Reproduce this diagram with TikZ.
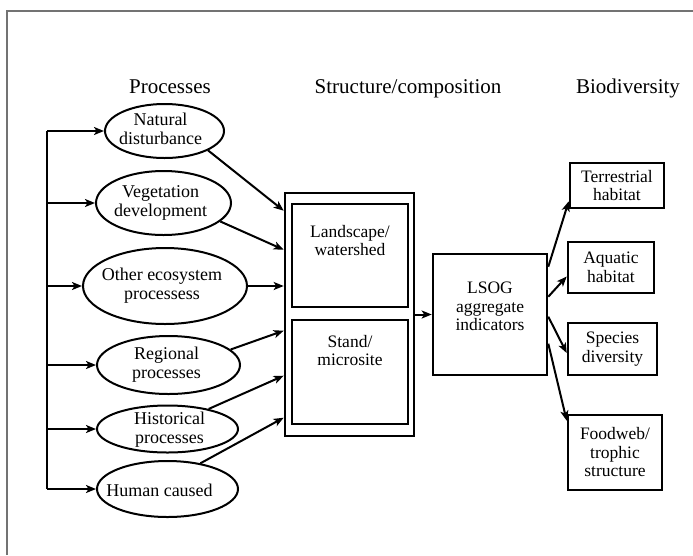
\documentclass[tikz,border=0pt]{standalone}
\usepackage{fontspec}
\setmainfont{Liberation Serif}
\usetikzlibrary{shapes.geometric,arrows.meta,calc}
\begin{document}
\begin{tikzpicture}[x=1pt,y=-1pt,
  proc/.style={draw, ellipse, line width=2pt, inner sep=0pt},
  plab/.style={align=center, font=\fontsize{18}{19}\selectfont, inner sep=0pt},
  blab/.style={align=center, font=\fontsize{17.5}{18.5}\selectfont, inner sep=0pt},
  box/.style={draw, line width=2.6pt, inner sep=0pt},
  hdr/.style={font=\fontsize{21}{24}\selectfont, anchor=base, inner sep=0pt},
  conn/.style={line width=2pt},
  arr/.style={line width=2pt, -{Stealth[length=10pt,width=8pt,inset=2.5pt]}}]
\useasboundingbox (0,0) rectangle (693,555);
\draw[black!55, line width=1.2pt] (7,555) -- (7,11) -- (693,11);

% headers
\node[hdr] (hproc) at (170,93) {Processes};
\node[hdr] (hstruct) at (408,93) {Structure/composition};
\node[hdr] (hbio) at (628,93) {Biodiversity};

% process ellipses
\node[proc, minimum width=119pt, minimum height=54pt, label={[plab, xshift=-4pt, yshift=2pt]center:Natural\\disturbance}] (nat) at (164.5,131) {};
\node[proc, minimum width=135pt, minimum height=64pt, label={[plab, xshift=-3pt]center:Vegetation\\development}] (veg) at (163.5,203) {};
\node[proc, minimum width=164pt, minimum height=76pt, label={[plab, xshift=-3pt]center:Other ecosystem\\processess}] (oth) at (165,286) {};
\node[proc, minimum width=143pt, minimum height=58pt, label={[plab, xshift=-2pt]center:Regional\\processes}] (reg) at (168.5,365) {};
\node[proc, minimum width=141pt, minimum height=47pt, label={[plab, xshift=2pt, yshift=-1pt]center:Historical\\processes}] (his) at (167.5,429) {};
\node[proc, minimum width=141pt, minimum height=56pt, label={[plab, xshift=-8pt, yshift=-1pt]center:Human caused}] (hum) at (167.5,489) {};

% branching line
\coordinate (btop) at (47,131);
\coordinate (bbot) at (47,489);
\draw[conn] (btop) -- (bbot);
\draw[arr] (btop) -- (nat.west);
\draw[arr] (veg.west -| btop) -- (veg.west);
\draw[arr] (oth.west -| btop) -- (oth.west);
\draw[arr] (reg.west -| btop) -- (reg.west);
\draw[arr] (his.west -| btop) -- (his.west);
\draw[arr] (bbot) -- (hum.west);

% structure boxes
\node[box, minimum width=129pt, minimum height=243pt] (outer) at (349.5,314.5) {};
\node[box, minimum width=116pt, minimum height=103pt,
  label={[blab, anchor=north, yshift=-22pt]north:Landscape/\\watershed}] (land) at (350,255.5) {};
\node[box, minimum width=116pt, minimum height=104pt,
  label={[blab, anchor=north, yshift=-16pt]north:Stand/\\microsite}] (stand) at (350,372) {};

% arrows into structure
\draw[arr] (nat.-24) -- ($(outer.north west)+(0,19)$);
\draw[arr] (veg.-18) -- ($(outer.north west)+(0,58)$);
\draw[arr] (oth.east) -- (oth.east -| outer.west);
\draw[arr] (reg.14) -- ($(outer.north west)+(0,139)$);
\draw[arr] (his.26) -- ($(outer.north west)+(0,184)$);
\draw[arr] (hum.38) -- ($(outer.north west)+(0,226)$);

% LSOG
\node[box, minimum width=114pt, minimum height=121pt,
  label={[blab, yshift=8pt]center:LSOG\\aggregate\\indicators}] (lsog) at (490,314.5) {};
\draw[arr] (outer.east) -- (outer.east -| lsog.west);

% biodiversity boxes
\node[box, minimum width=94pt, minimum height=45pt, label={[blab]center:Terrestrial\\habitat}] (terr) at (617,185.5) {};
\node[box, minimum width=86pt, minimum height=51pt, label={[blab]center:Aquatic\\habitat}] (aqu) at (611,267.5) {};
\node[box, minimum width=89pt, minimum height=52pt, label={[blab]center:Species\\diversity}] (spe) at (612.5,349) {};
\node[box, minimum width=94pt, minimum height=75pt, label={[blab]center:Foodweb/\\trophic\\structure}] (food) at (615,452.5) {};

\draw[arr] ($(lsog.north east)+(0,14)$) -- ($(terr.south west)+(0,-8)$);
\draw[arr] ($(lsog.north east)+(0,44)$) -- ($(aqu.west)+(0,9)$);
\draw[arr] ($(lsog.north east)+(0,64)$) -- ($(spe.west)+(0,4)$);
\draw[arr] ($(lsog.north east)+(0,91)$) -- ($(food.north west)+(0,7)$);
\end{tikzpicture}
\end{document}
